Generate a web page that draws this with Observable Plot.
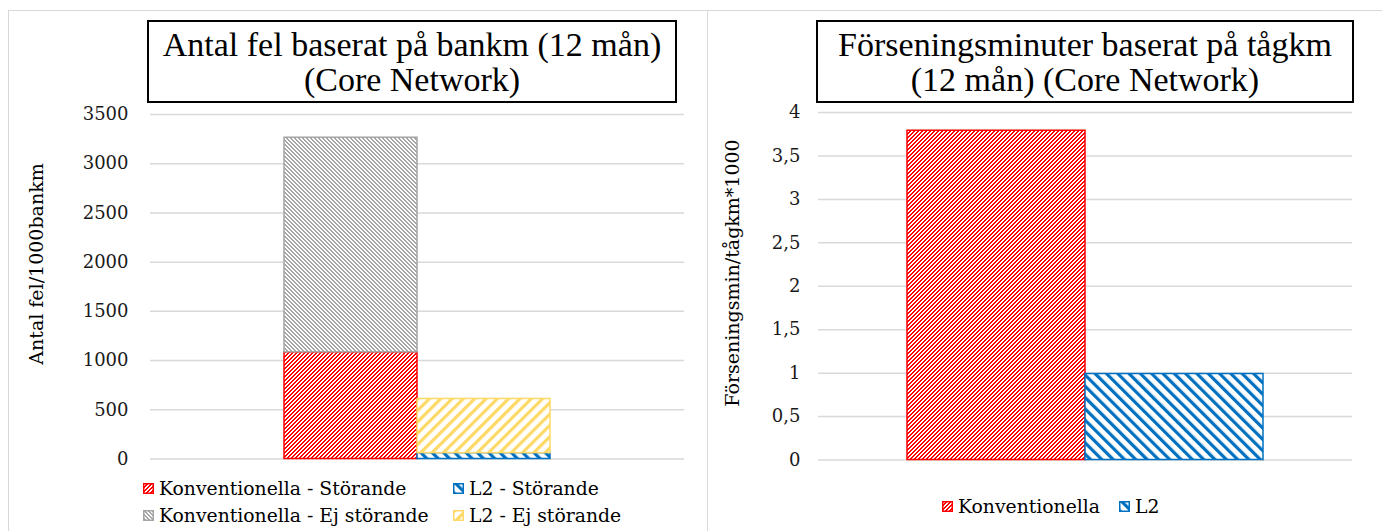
<!DOCTYPE html>
<html><head><meta charset="utf-8">
<script src="https://cdn.jsdelivr.net/npm/d3@7"></script>
<script src="https://cdn.jsdelivr.net/npm/@observablehq/plot@0.6"></script>
<style>
body{margin:0;background:#fff;}
#root{position:relative;width:1382px;height:531px;overflow:hidden;font-family:"DejaVu Serif",serif;background:#fff;}
.panel{position:absolute;border:1px solid #d9d9d9;border-bottom:none;box-sizing:border-box;}
.plotbox{position:absolute;top:0;}
.title{position:absolute;border:2px solid #000;background:#fff;font-family:"Liberation Serif",serif;font-size:34px;line-height:35px;text-align:center;box-sizing:border-box;display:flex;flex-direction:column;justify-content:center;color:#000;}
.leg{position:absolute;height:22px;font-size:18.8px;color:#000;display:flex;align-items:center;white-space:nowrap;}
.leg svg{margin-right:5px;flex:none;}
.ylab{position:absolute;font-size:19px;color:#000;white-space:nowrap;transform:translate(-50%,-50%) rotate(-90deg);}
</style></head><body>
<svg width="0" height="0" style="position:absolute">
 <defs>
  <pattern id="pRed" patternUnits="userSpaceOnUse" width="4" height="4" shape-rendering="crispEdges">
   <rect width="4" height="4" fill="#fff"/>
   <g fill="#ff0000">
    <rect x="0" y="0" width="1" height="1"/><rect x="1" y="0" width="1" height="1"/>
    <rect x="0" y="1" width="1" height="1"/><rect x="3" y="1" width="1" height="1"/>
    <rect x="2" y="2" width="1" height="1"/><rect x="3" y="2" width="1" height="1"/>
    <rect x="1" y="3" width="1" height="1"/><rect x="2" y="3" width="1" height="1"/>
   </g>
  </pattern>
  <pattern id="pGray" patternUnits="userSpaceOnUse" width="4" height="4" shape-rendering="crispEdges">
   <rect width="4" height="4" fill="#fff"/>
   <g fill="#a5a5a5">
    <rect x="0" y="0" width="1" height="1"/><rect x="1" y="0" width="1" height="1"/>
    <rect x="1" y="1" width="1" height="1"/><rect x="2" y="1" width="1" height="1"/>
    <rect x="2" y="2" width="1" height="1"/><rect x="3" y="2" width="1" height="1"/>
    <rect x="3" y="3" width="1" height="1"/><rect x="0" y="3" width="1" height="1"/>
   </g>
  </pattern>
  <pattern id="pBlue" patternUnits="userSpaceOnUse" width="8" height="8" patternTransform="rotate(-45)">
   <rect width="8" height="8" fill="#fff"/>
   <rect width="3.2" height="8" fill="#0070c0"/>
  </pattern>
  <pattern id="pYellow" patternUnits="userSpaceOnUse" width="8" height="8" patternTransform="rotate(45)">
   <rect width="8" height="8" fill="#fff"/>
   <rect width="3.2" height="8" fill="#ffd966"/>
  </pattern>
 </defs>
</svg>
<div id="root"></div>
<script>
// ---- data ----
const categories = ["Konventionella", "L2"];
const stackTypes = ["Störande", "Ej störande"];
const storande = [1084, 60];          // Antal fel/1000bankm, störande
const ejStorande = [2180, 550];       // Antal fel/1000bankm, ej störande
const forseningsmin = [3.79, 0.99];   // Förseningsmin/tågkm*1000
const leftTicks = [0, 500, 1000, 1500, 2000, 2500, 3000, 3500];
const rightTicks = [0, 0.5, 1, 1.5, 2, 2.5, 3, 3.5, 4];
const leftTitle = ["Antal fel baserat på bankm (12 mån)", "(Core Network)"];
const rightTitle = ["Förseningsminuter baserat på tågkm", "(12 mån) (Core Network)"];
const leftYLabel = "Antal fel/1000bankm";
const rightYLabel = "Förseningsmin/tågkm*1000";
const leftLegend = ["Konventionella - Störande", "L2 - Störande", "Konventionella - Ej störande", "L2 - Ej störande"];
const rightLegend = ["Konventionella", "L2"];

// styles (not data)
const patternOf = {"Konventionella|Störande":"pRed","L2|Störande":"pBlue","Konventionella|Ej störande":"pGray","L2|Ej störande":"pYellow"};
const colorOf = {pRed:"#ff0000", pBlue:"#0070c0", pGray:"#a5a5a5", pYellow:"#ffd966"};

const root = document.getElementById("root");

function panel(x, w){
  const d = document.createElement("div");
  d.className = "panel";
  Object.assign(d.style, {left:x+"px", top:"10px", width:w+"px", height:"530px"});
  root.appendChild(d);
}
panel(8, 700);
panel(707, 680);

const style = {fontFamily:"DejaVu Serif, serif", fontSize:"18px", color:"#1a1a1a", background:"transparent", overflow:"visible"};

// ---- left chart ----
const leftRows = [];
categories.forEach((c, i) => {
  leftRows.push({cat:c, typ:stackTypes[0], value:storande[i]});
  leftRows.push({cat:c, typ:stackTypes[1], value:ejStorande[i]});
});
const left = Plot.plot({
  width:700, height:470,
  marginLeft:150, marginRight:16, marginTop:114, marginBottom:11.5,
  style,
  x:{domain:categories, paddingInner:0, paddingOuter:1, axis:null},
  y:{domain:[0,3500]},
  color:{type:"identity"},
  marks:[
    Plot.gridY(leftTicks, {stroke:"#d9d9d9", strokeOpacity:1, strokeWidth:1.5}),
    Plot.axisY({ticks:leftTicks, tickSize:0, tickPadding:22, tickFormat:d => String(d), label:null, fontSize:18, fill:"#1a1a1a"}),
    Plot.barY(leftRows, Plot.stackY({x:"cat", y:"value", order:null, inset:0,
      fill:d => `url(#${patternOf[d.cat+"|"+d.typ]})`,
      stroke:d => colorOf[patternOf[d.cat+"|"+d.typ]],
      strokeWidth:1.5}))
  ]
});
left.classList.add("plotbox");
left.style.left = "0px";
root.appendChild(left);

// ---- right chart ----
const rightRows = categories.map((c, i) => ({cat:c, value:forseningsmin[i]}));
const rightPat = {"Konventionella":"pRed", "L2":"pBlue"};
const right = Plot.plot({
  width:674, height:470,
  marginLeft:110, marginRight:30, marginTop:112, marginBottom:10.5,
  style,
  x:{domain:categories, paddingInner:0, paddingOuter:0.5, axis:null},
  y:{domain:[0,4]},
  color:{type:"identity"},
  marks:[
    Plot.gridY(rightTicks, {stroke:"#d9d9d9", strokeOpacity:1, strokeWidth:1.5}),
    Plot.axisY({ticks:rightTicks, tickSize:0, tickPadding:18, tickFormat:d => String(d).replace(".", ","), label:null, fontSize:18, fill:"#1a1a1a"}),
    Plot.barY(rightRows, {x:"cat", y:"value", inset:0,
      fill:d => `url(#${rightPat[d.cat]})`,
      stroke:d => colorOf[rightPat[d.cat]],
      strokeWidth:1.5})
  ]
});
right.classList.add("plotbox");
right.style.left = "708px";
root.appendChild(right);

// ---- y-axis titles ----
function ylab(text, cx, cy){
  const d = document.createElement("div");
  d.className = "ylab";
  d.textContent = text;
  Object.assign(d.style, {left:cx+"px", top:cy+"px"});
  root.appendChild(d);
}
ylab(leftYLabel, 36, 264);
ylab(rightYLabel, 732, 273);

// ---- titles ----
function title(lines, x, w){
  const d = document.createElement("div");
  d.className = "title";
  Object.assign(d.style, {left:x+"px", top:"20px", width:w+"px", height:"83px"});
  lines.forEach(t => { const s = document.createElement("div"); s.textContent = t; d.appendChild(s); });
  root.appendChild(d);
}
title(leftTitle, 147, 530);
title(rightTitle, 816, 538);

// ---- legends ----
function legend(label, pid, x, cy){
  const d = document.createElement("div");
  d.className = "leg";
  Object.assign(d.style, {left:x+"px", top:(cy-11)+"px"});
  d.innerHTML = `<svg width="11" height="11"><rect x="0.75" y="0.75" width="9.5" height="9.5" fill="url(#${pid})" stroke="${colorOf[pid]}" stroke-width="1.5"/></svg>`;
  const s = document.createElement("span"); s.textContent = label; d.appendChild(s);
  root.appendChild(d);
}
legend(leftLegend[0], "pRed", 143, 488.5);
legend(leftLegend[1], "pBlue", 453, 488.5);
legend(leftLegend[2], "pGray", 143, 515);
legend(leftLegend[3], "pYellow", 453, 515);
legend(rightLegend[0], "pRed", 942, 506);
legend(rightLegend[1], "pBlue", 1119, 506);
</script>
</body></html>
